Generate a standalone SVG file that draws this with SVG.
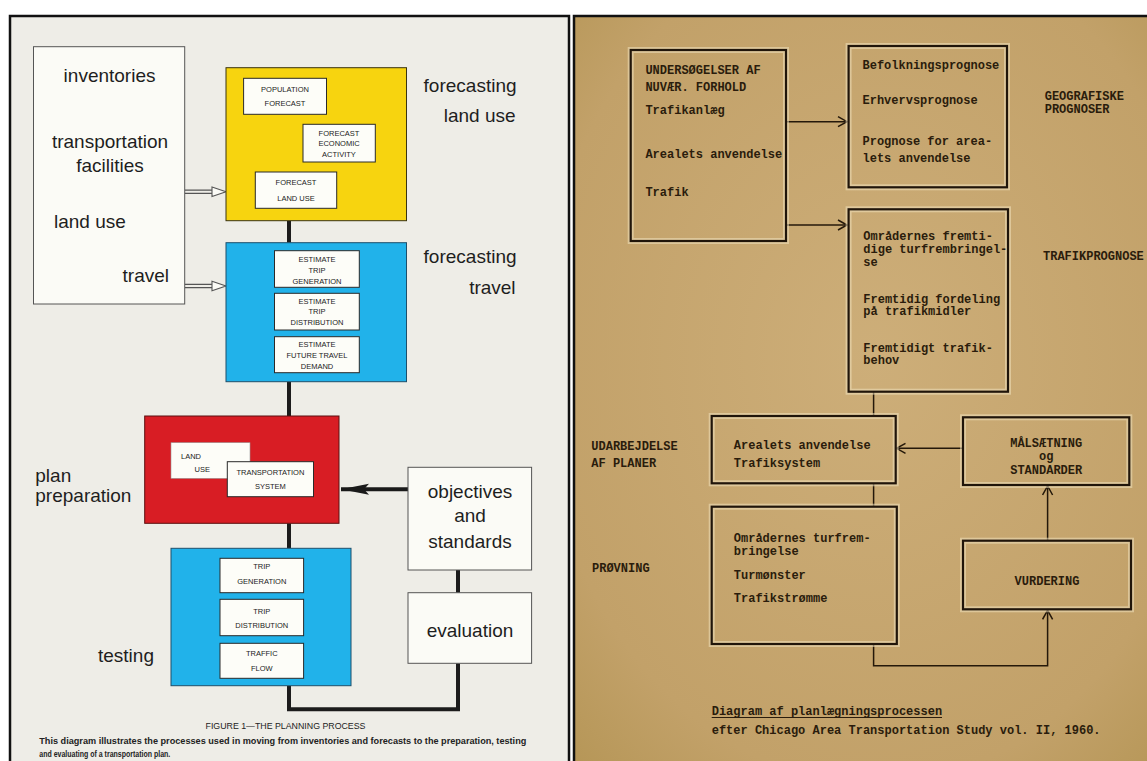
<svg xmlns="http://www.w3.org/2000/svg" width="1147" height="761" viewBox="0 0 1147 761">
<defs>
<radialGradient id="tan" cx="0.5" cy="0.45" r="0.8">
<stop offset="0" stop-color="#cdae79"/>
<stop offset="0.7" stop-color="#c2a169"/>
<stop offset="1" stop-color="#b19250"/>
</radialGradient>
<marker id="solidHead" markerUnits="userSpaceOnUse" markerWidth="30" markerHeight="14" refX="28" refY="7" orient="auto">
<path d="M0,1.5 L28,7 L0,12.5 L5,7 Z" fill="#1a1a1a"/>
</marker>
<marker id="vHead" markerUnits="userSpaceOnUse" markerWidth="12" markerHeight="12" refX="10" refY="6" orient="auto">
<path d="M1,1 L10,6 L1,11" fill="none" stroke="#24180a" stroke-width="1.5"/>
</marker>
</defs>
<style>
.big{font-family:"Liberation Sans",Arial,sans-serif;font-size:19px;fill:#1e1e1e}
.sm{font-family:"Liberation Sans",Arial,sans-serif;font-size:7.5px;fill:#222;text-anchor:middle}
.cap{font-family:"Liberation Sans",Arial,sans-serif;fill:#222}
.inner{fill:#fdfdf8;stroke:#2a2a2a;stroke-width:1}
.wbox{fill:#fbfbf6;stroke:#555;stroke-width:1}
.thick{fill:none;stroke:#1c1c1c;stroke-width:4}
.tw{font-family:"Liberation Mono","Courier New",monospace;font-size:12px;font-weight:bold;fill:#2a1c0c}
.halo{fill:none;stroke:#f0e2bd;stroke-width:6;opacity:0.55}
.rbox{fill:none;stroke:#20150a;stroke-width:2.2}
.thin{fill:none;stroke:#24180a;stroke-width:1.5}
</style>
<rect x="0" y="0" width="1147" height="761" fill="#ffffff"/>
<!-- LEFT PANEL -->
<rect x="10" y="16" width="559" height="760" fill="#eeede7" stroke="#111" stroke-width="2.5"/>
<!-- RIGHT PANEL -->
<rect x="574" y="16" width="600" height="760" fill="url(#tan)" stroke="#111" stroke-width="2.5"/>

<g id="connectors">
<!-- left -->
<path class="thick" d="M289,220.7 V242.7"/>
<path class="thick" d="M289,381.7 V416"/>
<path class="thick" d="M289,523.3 V548.3"/>
<path class="thick" d="M458,570 V592.7"/>
<path class="thick" d="M289,685.7 V709.3 H458 V663.3"/>
<path d="M408,489.3 H341" stroke="#1a1a1a" stroke-width="4" fill="none" marker-end="url(#solidHead)"/>
<g id="dbl-arrow-1">
<path d="M184.7,190.2 H213 M184.7,193.4 H213" stroke="#555" stroke-width="1.3" fill="none"/>
<polygon points="212,187 226,191.8 212,196.6" fill="#fbfbf6" stroke="#555" stroke-width="1.1"/>
</g>
<g id="dbl-arrow-2">
<path d="M184.7,284.4 H213 M184.7,287.6 H213" stroke="#555" stroke-width="1.3" fill="none"/>
<polygon points="212,281.2 226,286 212,290.8" fill="#fbfbf6" stroke="#555" stroke-width="1.1"/>
</g>
<!-- right -->
<path class="thin" d="M786,121.7 H847" marker-end="url(#vHead)"/>
<path class="thin" d="M786,225 H847" marker-end="url(#vHead)"/>
<path class="thin" d="M873.6,391.7 V416"/>
<path class="thin" d="M873.6,483.3 V506.7"/>
<path class="thin" d="M963,448.3 H896.5" marker-end="url(#vHead)"/>
<path class="thin" d="M1047.6,540.7 V486" marker-end="url(#vHead)"/>
<path class="thin" d="M873.6,644 V665.7 H1047.6 V610.3" marker-end="url(#vHead)"/>
</g>

<!-- LEFT NODES -->
<g id="inventories">
<rect class="wbox" x="33.5" y="46.7" width="151.2" height="257.3"/>
<text class="big" x="63.6" y="81.7">inventories</text>
<text class="big" x="110" y="148.3" text-anchor="middle">transportation</text>
<text class="big" x="110" y="171.7" text-anchor="middle">facilities</text>
<text class="big" x="54" y="228.3">land use</text>
<text class="big" x="169" y="281.7" text-anchor="end">travel</text>
</g>

<g id="forecasting-land-use">
<rect x="226" y="67.7" width="180.5" height="153" fill="#f7d40f" stroke="#3a3410" stroke-width="1"/>
<rect class="inner" x="243.6" y="78.3" width="82.9" height="36"/>
<text class="sm" x="285" y="92">POPULATION</text>
<text class="sm" x="285" y="106">FORECAST</text>
<rect class="inner" x="303" y="124.3" width="72.3" height="37.7"/>
<text class="sm" x="339" y="136">FORECAST</text>
<text class="sm" x="339" y="146">ECONOMIC</text>
<text class="sm" x="339" y="156.5">ACTIVITY</text>
<rect class="inner" x="255.3" y="172" width="81.4" height="36.3"/>
<text class="sm" x="296" y="185">FORECAST</text>
<text class="sm" x="296" y="200.5">LAND  USE</text>
<text class="big" x="423.6" y="91.7">forecasting</text>
<text class="big" x="515.6" y="121.7" text-anchor="end">land use</text>
</g>

<g id="forecasting-travel">
<rect x="226" y="242.7" width="180.5" height="139" fill="#21b2ea" stroke="#1d4f6b" stroke-width="1"/>
<rect class="inner" x="274.5" y="250.7" width="84.8" height="36.6"/>
<text class="sm" x="317" y="262">ESTIMATE</text>
<text class="sm" x="317" y="272.7">TRIP</text>
<text class="sm" x="317" y="283.7">GENERATION</text>
<rect class="inner" x="274.5" y="293.3" width="84.8" height="36.7"/>
<text class="sm" x="317" y="303.7">ESTIMATE</text>
<text class="sm" x="317" y="314.3">TRIP</text>
<text class="sm" x="317" y="325.3">DISTRIBUTION</text>
<rect class="inner" x="274.5" y="336.7" width="84.8" height="36"/>
<text class="sm" x="317" y="347">ESTIMATE</text>
<text class="sm" x="317" y="358.3">FUTURE  TRAVEL</text>
<text class="sm" x="317" y="368.7">DEMAND</text>
<text class="big" x="423.6" y="263.3">forecasting</text>
<text class="big" x="515.6" y="294" text-anchor="end">travel</text>
</g>

<g id="plan-preparation">
<rect x="144.7" y="416" width="194.3" height="107.3" fill="#d81d24" stroke="#5a1010" stroke-width="1"/>
<rect x="171" y="442.7" width="79" height="35.6" fill="#fdfdf8" stroke="#999" stroke-width="0.6"/>
<text class="sm" x="181" y="459.3" style="text-anchor:start">LAND</text>
<text class="sm" x="194.5" y="472.3" style="text-anchor:start">USE</text>
<rect class="inner" x="227.3" y="461.7" width="86.2" height="35"/>
<text class="sm" x="270.4" y="475">TRANSPORTATION</text>
<text class="sm" x="270.4" y="489.3">SYSTEM</text>
<text class="big" x="35.3" y="481.7">plan</text>
<text class="big" x="35.3" y="501.7">preparation</text>
</g>

<g id="objectives-standards">
<rect class="wbox" x="408" y="467.3" width="123.6" height="102.7"/>
<text class="big" x="470" y="498.3" text-anchor="middle">objectives</text>
<text class="big" x="470" y="521.7" text-anchor="middle">and</text>
<text class="big" x="470" y="548.3" text-anchor="middle">standards</text>
</g>

<g id="testing">
<rect x="171" y="548.3" width="180" height="137.4" fill="#21b2ea" stroke="#1d4f6b" stroke-width="1"/>
<rect class="inner" x="220" y="558.3" width="83.6" height="34.4"/>
<text class="sm" x="261.8" y="569.3">TRIP</text>
<text class="sm" x="261.8" y="583.7">GENERATION</text>
<rect class="inner" x="220" y="599.3" width="83.6" height="36.4"/>
<text class="sm" x="261.8" y="613.7">TRIP</text>
<text class="sm" x="261.8" y="627.7">DISTRIBUTION</text>
<rect class="inner" x="220" y="643.3" width="83.6" height="35"/>
<text class="sm" x="261.8" y="656">TRAFFIC</text>
<text class="sm" x="261.8" y="671">FLOW</text>
<text class="big" x="98" y="661.7">testing</text>
</g>

<g id="evaluation">
<rect class="wbox" x="408" y="592.7" width="123.6" height="70.6"/>
<text class="big" x="470" y="636.7" text-anchor="middle">evaluation</text>
</g>

<g id="left-caption">
<text class="cap" x="285.5" y="729.3" font-size="8.5" text-anchor="middle" textLength="160" lengthAdjust="spacingAndGlyphs">FIGURE 1—THE PLANNING PROCESS</text>
<text class="cap" x="39.3" y="744" font-size="8.3" font-weight="bold" textLength="487" lengthAdjust="spacingAndGlyphs">This diagram illustrates the processes used in moving from inventories and forecasts to the preparation, testing</text>
<text class="cap" x="39.3" y="757.3" font-size="8.3" font-weight="bold" textLength="131" lengthAdjust="spacingAndGlyphs">and evaluating of a transportation plan.</text>
</g>

<!-- RIGHT NODES -->
<g id="undersoegelser">
<rect class="halo" x="630.7" y="50" width="155.3" height="191"/>
<rect class="rbox" x="630.7" y="50" width="155.3" height="191"/>
<text class="tw" x="645.4" y="74">UNDERSØGELSER AF</text>
<text class="tw" x="645.4" y="91">NUVÆR. FORHOLD</text>
<text class="tw" x="645.4" y="114">Trafikanlæg</text>
<text class="tw" x="645.4" y="158">Arealets anvendelse</text>
<text class="tw" x="645.4" y="196">Trafik</text>
</g>

<g id="geografiske-prognoser">
<rect class="halo" x="848.6" y="46" width="158.4" height="141.3"/>
<rect class="rbox" x="848.6" y="46" width="158.4" height="141.3"/>
<text class="tw" x="862.5" y="68.5">Befolkningsprognose</text>
<text class="tw" x="862.5" y="104">Erhvervsprognose</text>
<text class="tw" x="862.5" y="145">Prognose for area-</text>
<text class="tw" x="862.5" y="162">lets anvendelse</text>
<text class="tw" x="1044.7" y="100">GEOGRAFISKE</text>
<text class="tw" x="1044.7" y="113">PROGNOSER</text>
</g>

<g id="trafikprognose">
<rect class="halo" x="848.6" y="209.3" width="159.4" height="182.4"/>
<rect class="rbox" x="848.6" y="209.3" width="159.4" height="182.4"/>
<text class="tw" x="863.3" y="240">Områdernes fremti-</text>
<text class="tw" x="863.3" y="253">dige turfrembringel-</text>
<text class="tw" x="863.3" y="265.5">se</text>
<text class="tw" x="863.3" y="303">Fremtidig fordeling</text>
<text class="tw" x="863.3" y="315">på trafikmidler</text>
<text class="tw" x="863.3" y="352">Fremtidigt trafik-</text>
<text class="tw" x="863.3" y="364">behov</text>
<text class="tw" x="1043" y="260">TRAFIKPROGNOSE</text>
</g>

<g id="udarbejdelse">
<rect class="halo" x="711.7" y="416" width="184" height="67.3"/>
<rect class="rbox" x="711.7" y="416" width="184" height="67.3"/>
<text class="tw" x="733.8" y="449">Arealets anvendelse</text>
<text class="tw" x="733.8" y="467">Trafiksystem</text>
<text class="tw" x="591.3" y="450">UDARBEJDELSE</text>
<text class="tw" x="591.3" y="467">AF PLANER</text>
</g>

<g id="maalsaetning">
<rect class="halo" x="963" y="417.3" width="166.3" height="67.7"/>
<rect class="rbox" x="963" y="417.3" width="166.3" height="67.7"/>
<text class="tw" x="1046.2" y="446.5" text-anchor="middle">MÅLSÆTNING</text>
<text class="tw" x="1046.2" y="460" text-anchor="middle">og</text>
<text class="tw" x="1046.2" y="473.5" text-anchor="middle">STANDARDER</text>
</g>

<g id="proevning">
<rect class="halo" x="711.7" y="506.7" width="185.1" height="137.3"/>
<rect class="rbox" x="711.7" y="506.7" width="185.1" height="137.3"/>
<text class="tw" x="733.8" y="542">Områdernes turfrem-</text>
<text class="tw" x="733.8" y="555">bringelse</text>
<text class="tw" x="733.8" y="579">Turmønster</text>
<text class="tw" x="733.8" y="602">Trafikstrømme</text>
<text class="tw" x="592" y="572">PRØVNING</text>
</g>

<g id="vurdering">
<rect class="halo" x="963" y="540.7" width="168" height="68.6"/>
<rect class="rbox" x="963" y="540.7" width="168" height="68.6"/>
<text class="tw" x="1047" y="585" text-anchor="middle">VURDERING</text>
</g>

<g id="right-caption">
<text class="tw" x="711.7" y="714.5">Diagram af planlægningsprocessen</text>
<line x1="711.7" y1="717.5" x2="942" y2="717.5" stroke="#2a1c0c" stroke-width="1"/>
<text class="tw" x="711.7" y="734">efter Chicago Area Transportation Study vol. II, 1960.</text>
</g>
</svg>
